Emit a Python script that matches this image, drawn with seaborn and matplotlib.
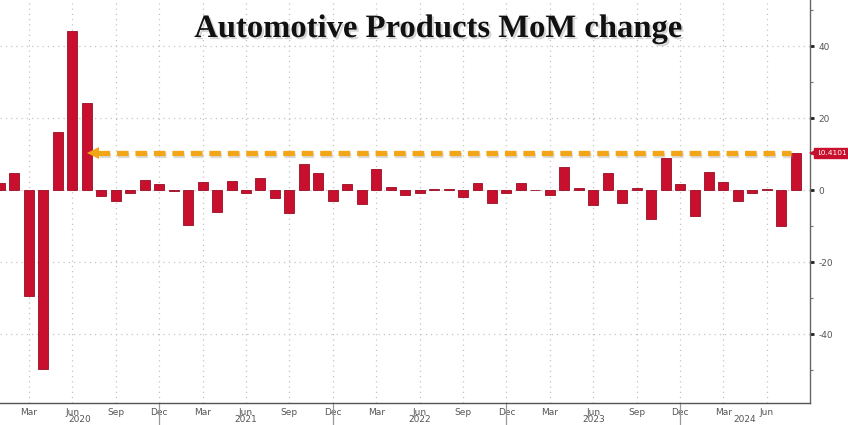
import matplotlib
matplotlib.use("Agg")
import matplotlib.pyplot as plt
import matplotlib.patheffects as pe
import matplotlib.transforms as mtrans
import numpy as np
import pandas as pd
import seaborn as sns

# ---- data ----
months = [str(p) for p in pd.period_range("2020-01", "2024-08", freq="M")]
values = [
    2.1, 4.7, -29.4, -49.7, 16.3, 44.3, 24.2, -1.6, -3.0, -0.7, 3.0, 1.75,   # 2020
    -0.2, -9.6, 2.3, -5.9, 2.5, -0.6, 3.3, -2.0, -6.4, 7.3, 4.7, -2.9,      # 2021
    1.75, -3.9, 5.8, 0.8, -1.3, -0.6, 0.5, 0.5, -1.8, 2.1, -3.4, -0.6,      # 2022
    2.1, 0.1, -1.3, 6.6, 0.7, -4.1, 4.7, -3.6, 0.7, -8.1, 8.9, 1.7,         # 2023
    -7.1, 5.2, 2.2, -2.9, -0.7, 0.5, -9.8, 10.4101,                         # 2024
]
quarter_labels = ["Mar", "Jun", "Sep", "Dec"]
year_labels = ["2020", "2021", "2022", "2023", "2024"]
y_ticks = [-40, -20, 0, 20, 40]
last_label = "10.4101"
title = "Automotive Products MoM change"

df = pd.DataFrame({"month": months, "value": values})

sns.set_style("white")
plt.rcParams["font.family"] = ["DejaVu Sans"]

fig = plt.figure(figsize=(8.48, 4.25), dpi=100)
ax = fig.add_axes([0.0, 22 / 425, 810 / 848, 403 / 425])

BAR = "#C8102E"
sns.barplot(data=df, x="month", y="value", ax=ax, color=BAR, saturation=1,
            width=0.69, edgecolor="#9A0C22", linewidth=0.6, zorder=3)

n = len(values)
ax.set_xlim(0.0, n - 0.02)
ax.set_ylim(-59.1, 52.9)

# grid
grid_kw = dict(color="#C4C4C4", lw=0.9, ls=(0, (1, 3.2)), zorder=0)
q_idx = [i for i, m in enumerate(months) if int(m[-2:]) in (3, 6, 9, 12)]
q_lab = [quarter_labels[int(months[i][-2:]) // 3 - 1] for i in q_idx]
for i in q_idx:
    ax.axvline(i, **grid_kw)
for yv in y_ticks:
    ax.axhline(yv, **grid_kw)

# x axis
ax.set_xticks(q_idx)
ax.set_xticklabels(q_lab, fontsize=6.5, color="#555555")
ax.set_xticks(range(n), minor=True)
ax.tick_params(axis="x", which="both", direction="inout", length=4, width=0.8,
               color="#555555", pad=1.5)
ax.set_xlabel("")

# y axis on right
ax.yaxis.tick_right()
ax.set_yticks(y_ticks)
ax.set_yticklabels([str(v) for v in y_ticks], fontsize=6.5, color="#555555")
ax.set_yticks(np.arange(-50, 51, 10), minor=True)
ax.tick_params(axis="y", which="major", direction="out", length=3, width=2,
               color="#222222", pad=3)
ax.tick_params(axis="y", which="minor", direction="out", length=2, width=0.8,
               color="#777777")
ax.set_ylabel("")

for s in ["top", "left"]:
    ax.spines[s].set_visible(False)
ax.spines["bottom"].set_color("#555555")
ax.spines["right"].set_color("#666666")
ax.spines["bottom"].set_linewidth(1.0)
ax.spines["right"].set_linewidth(1.0)

# year separators and year labels
blend = mtrans.blended_transform_factory(ax.transData, ax.transAxes)
dec_idx = [i for i, m in enumerate(months) if m.endswith("-12")]
for i in dec_idx:
    ax.plot([i, i], [0, -0.06], transform=blend, color="#999999", lw=0.9,
            clip_on=False)
bounds = [0] + dec_idx + [n - 0.02]
for k, yl in enumerate(year_labels):
    xc = (bounds[k] + bounds[k + 1]) / 2
    ax.text(xc, -0.042, yl, transform=blend, ha="center", va="center",
            fontsize=6.5, color="#555555")

# orange dashed arrow from last bar back to Jul 2020
last = n - 1
ax.plot([6.75, last - 0.35], [values[-1], values[-1]], color="#F2A516", lw=3.8,
        ls=(0, (2.2, 1.3)), solid_capstyle="butt", dash_capstyle="butt", zorder=5,
        path_effects=[pe.SimpleLineShadow(offset=(1, -1.5), shadow_color="#999999", alpha=0.35),
                      pe.Normal()])
ax.plot([6.45], [values[-1]], marker="<", markersize=8, color="#F2A516",
        markeredgewidth=0, zorder=6)

# value label box
ax.annotate(last_label, xy=(1.0, values[-1]), xycoords=("axes fraction", "data"),
            xytext=(4.5, 0), textcoords="offset points", ha="left", va="center",
            fontsize=5.4, color="white",
            bbox=dict(boxstyle="square,pad=0.25", fc=BAR, ec=BAR), zorder=7,
            annotation_clip=False)
ax.plot([1.0], [values[-1]], marker="<", markersize=6.5, color=BAR,
        transform=mtrans.blended_transform_factory(ax.transAxes, ax.transData) +
        mtrans.ScaledTranslation(3.0 / 72, 0, fig.dpi_scale_trans),
        clip_on=False, zorder=7, markeredgewidth=0)

# title
fig.text(438 / 848, 1 - 37 / 425, title, ha="center", va="baseline",
         fontsize=23.5, fontweight="bold", family=["Liberation Serif", "DejaVu Serif"],
         color="#111111",
         path_effects=[pe.withSimplePatchShadow(offset=(1.5, -1.5), shadow_rgbFace="#888888", alpha=0.35)])

fig.savefig("out.png", dpi=100, facecolor="white")
